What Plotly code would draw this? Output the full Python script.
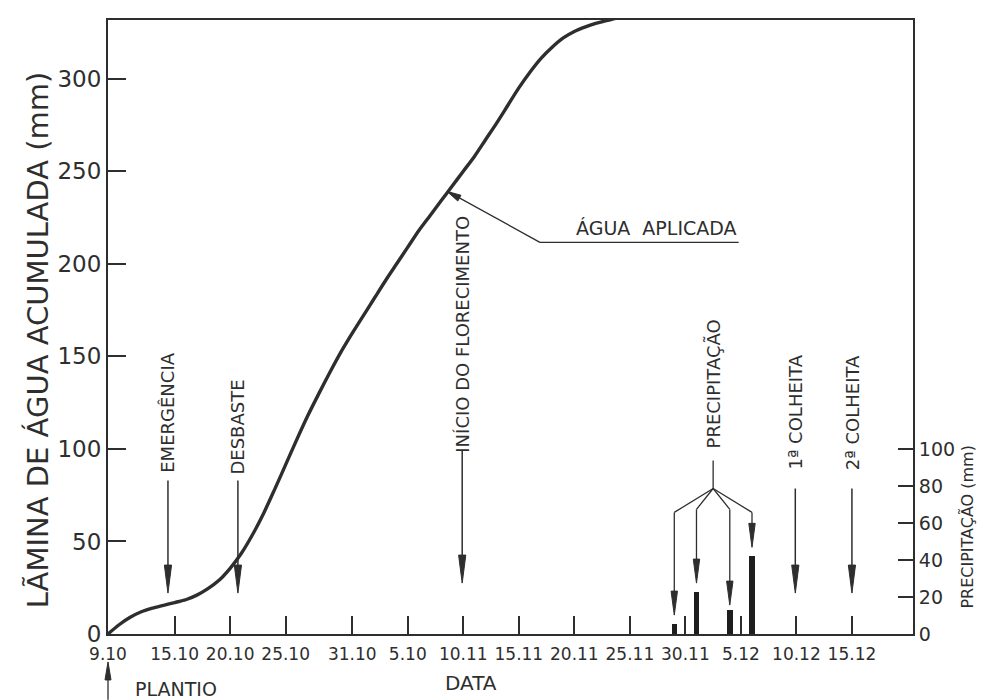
import math
import plotly.graph_objects as go

# ---------------- data ----------------
# days after planting (9.10) and accumulated applied water (mm)
curve_days = [0, 1, 2, 3, 4, 5, 6, 7, 8, 9, 10, 11, 12, 13, 14, 15, 16, 17, 18, 19,
              20, 21, 22, 23, 24, 25, 26, 27, 28, 29, 30, 31, 32, 33, 34, 35, 36, 37,
              38, 39, 40, 41, 42, 43, 44, 45, 46, 47]
curve_mm = [0, 5, 9, 12, 14, 15.5, 17, 18.5, 21, 24.5, 29, 35.5, 43.5, 53.5, 65, 78, 91.5,
            105, 118, 130, 141.5, 152.5, 162.5, 172, 181.5, 191, 200, 209, 218, 226, 234,
            242, 250, 258, 267, 276, 285.5, 295, 303.5, 311, 317, 322, 325.5, 328, 330,
            331.5, 333, 334]

# rainfall events (days after planting) and depth (mm)
rain_days = [51, 53, 56, 58]
rain_mm = [5.4, 22.6, 13, 42]

# date ticks
tick_days = [0, 6, 11, 16, 22, 27, 32, 37, 42, 47, 52, 57, 62, 67]
tick_labels = ["9.10", "15.10", "20.10", "25.10", "31.10", "5.10", "10.11", "15.11",
               "20.11", "25.11", "30.11", "5.12", "10.12", "15.12"]
left_ticks = [0, 50, 100, 150, 200, 250, 300]
right_ticks = [0, 20, 40, 60, 80, 100]

INK = "#2e2e2e"
FONT = "DejaVu Sans"

fig = go.Figure()
fig.add_trace(go.Scatter(x=curve_days, y=curve_mm, mode="lines",
                         line=dict(color=INK, width=3.4, shape="spline", smoothing=0.8),
                         hoverinfo="skip", showlegend=False))
fig.add_trace(go.Bar(x=rain_days, y=rain_mm, width=0.5, yaxis="y2",
                     marker=dict(color="#1e1e1e", line=dict(width=0)),
                     showlegend=False, hoverinfo="skip"))

shapes = []
annotations = []


def line(x0, y0, x1, y1, w=1.5, xref="x", yref="y"):
    shapes.append(dict(type="line", x0=x0, y0=y0, x1=x1, y1=y1, xref=xref, yref=yref,
                       line=dict(color=INK, width=w), layer="above"))


def head(x, y, dx, dy, length=28, half=3.6, xref="x", yref="y"):
    # arrowhead with tip at (x, y); (dx, dy) = pointing direction in pixel space (y up)
    n = math.hypot(dx, dy)
    ux, uy = dx / n, dy / n
    bx, by = -ux * length, -uy * length
    px, py = -uy * half, ux * half
    path = "M0,0 L{:.2f},{:.2f} L{:.2f},{:.2f} Z".format(bx + px, by + py, bx - px, by - py)
    shapes.append(dict(type="path", path=path, xsizemode="pixel", ysizemode="pixel",
                       xanchor=x, yanchor=y, xref=xref, yref=yref,
                       fillcolor=INK, line=dict(color=INK, width=1), layer="above"))


def vlabel(x, y, text, size=18):
    annotations.append(dict(x=x, y=y, xref="x", yref="y", text=text, showarrow=False,
                            textangle=-90, xanchor="center", yanchor="middle",
                            font=dict(family=FONT, size=size, color=INK)))


# stage markers
for xd, top, tip, txt, ty in [(5.4, 82.9, 22.1, "EMERGÊNCIA", 119.5),
                              (11.7, 82.9, 22.1, "DESBASTE", 112),
                              (31.9, 99.1, 27.5, "INÍCIO DO FLORECIMENTO", 161.8),
                              (61.9, 78.6, 22.1, "1ª COLHEITA", 119.8),
                              (67.0, 78.6, 22.1, "2ª COLHEITA", 119.8)]:
    line(xd, top, xd, tip + 5)
    head(xd, tip, 0, -1)
    vlabel(xd, ty, txt)

# precipitation pointer
stem_x = 54.5
line(stem_x, 93.7, stem_x, 78.6, w=1.3)
corners = [65.7, 67.3, 67.3, 65.7]
tips = [10.2, 27.5, 15.6, 46.8]
for d, cy, ty in zip(rain_days, corners, tips):
    line(stem_x, 78.6, d, cy, w=1.3)
    line(d, cy, d, ty + 5, w=1.3)
    head(d, ty, 0, -1, length=24, half=3.2)
vlabel(stem_x, 134.9, "PRECIPITAÇÃO")

# applied water pointer
line(38.9, 211.6, 56.8, 211.6, w=1.3)
line(38.9, 211.6, 30.7, 238.7, w=1.3)
head(30.54, 239.1, -93, 51, length=14, half=3.3)
annotations.append(dict(x=49.4, y=219.5, xref="x", yref="y", text="ÁGUA  APLICADA",
                        showarrow=False, xanchor="center", yanchor="middle",
                        font=dict(family=FONT, size=19, color=INK)))

# planting arrow below the axis
line(0, -0.107, 0, -0.06, w=1.3, xref="paper", yref="paper")
head(0, -0.0455, 0, 1, length=18, half=3, xref="paper", yref="paper")
annotations.append(dict(x=0.031, y=-0.09, xref="paper", yref="paper", text="PLANTIO",
                        showarrow=False, xanchor="left", yanchor="middle",
                        font=dict(family=FONT, size=19, color=INK)))

# axis titles
annotations.append(dict(x=0.451, y=-0.079, xref="paper", yref="paper", text="DATA",
                        showarrow=False, xanchor="center", yanchor="middle",
                        font=dict(family=FONT, size=20, color=INK)))
annotations.append(dict(x=-0.087, y=0.48, xref="paper", yref="paper",
                        text="LÃMINA DE ÁGUA ACUMULADA (mm)", textangle=-90,
                        showarrow=False, xanchor="center", yanchor="middle",
                        font=dict(family=FONT, size=29, color=INK)))
annotations.append(dict(x=1.068, y=0.1745, xref="paper", yref="paper",
                        text="PRECIPITAÇÃO (mm)", textangle=-90,
                        showarrow=False, xanchor="center", yanchor="middle",
                        font=dict(family=FONT, size=16, color=INK)))

# the page body adds an 8px offset; size the figure so it fills the 986x700 window
fig.update_layout(
    width=978, height=692,
    margin=dict(l=100, r=73, t=10, b=66),
    paper_bgcolor="white", plot_bgcolor="white",
    bargap=0,
    shapes=shapes, annotations=annotations,
    xaxis=dict(range=[0, 72.5], tickvals=tick_days, ticktext=tick_labels,
               ticks="inside", ticklen=18, tickwidth=1.6, tickcolor=INK,
               showline=True, linewidth=2, linecolor=INK, mirror=True,
               showgrid=False, zeroline=False, ticklabelstandoff=4,
               tickfont=dict(family=FONT, size=17, color=INK)),
    yaxis=dict(range=[0, 331.7], tickvals=left_ticks,
               ticks="inside", ticklen=18, tickwidth=2, tickcolor=INK,
               showline=True, linewidth=2, linecolor=INK,
               showgrid=False, zeroline=False,
               tickfont=dict(family=FONT, size=23, color=INK)),
    yaxis2=dict(range=[0, 331.7], tickvals=right_ticks, overlaying="y", side="right",
                ticks="inside", ticklen=15, tickwidth=1.6, tickcolor=INK,
                showline=True, linewidth=2, linecolor=INK,
                showgrid=False, zeroline=False,
                tickfont=dict(family=FONT, size=19, color=INK)),
)

fig.write_html("out.html")
